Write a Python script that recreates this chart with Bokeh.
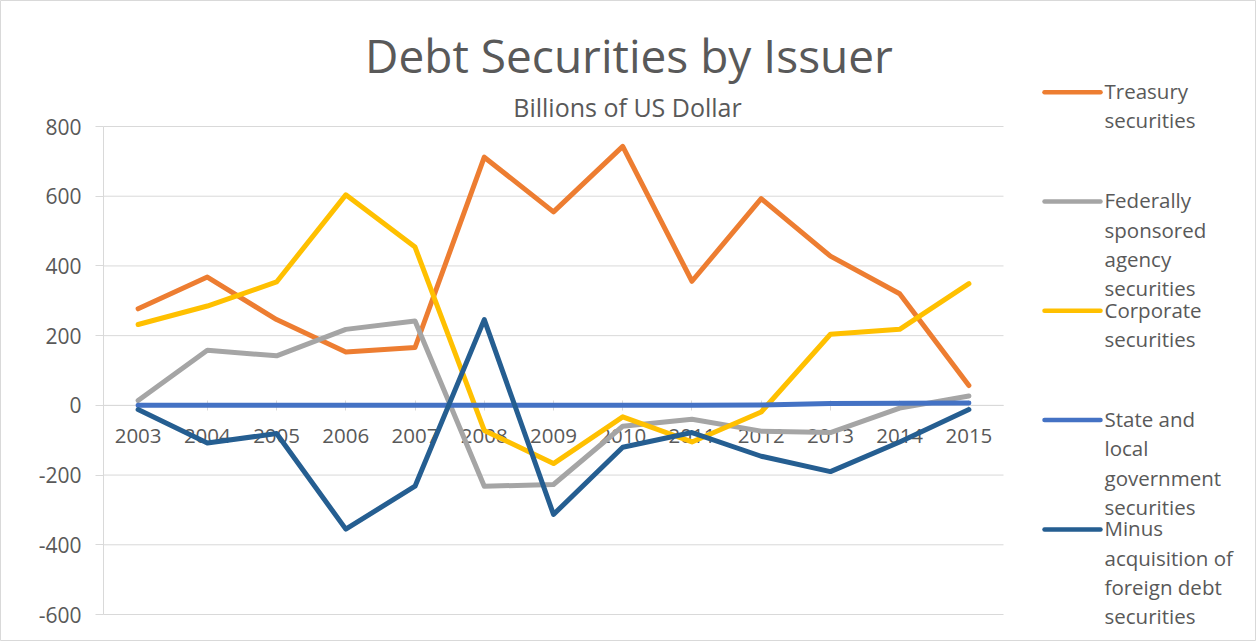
from bokeh.plotting import figure
from bokeh.models import Range1d, FixedTicker, Label
from bokeh.embed import file_html
from bokeh.resources import INLINE

# ---------------- data ----------------
years = [2003, 2004, 2005, 2006, 2007, 2008, 2009,
         2010, 2011, 2012, 2013, 2014, 2015]
treasury = [277, 368, 246, 153, 166, 712, 555, 743, 356, 593, 428, 320, 57]
federal = [14, 158, 142, 218, 242, -232, -227, -60, -40, -74, -78, -8, 27]
corporate = [232, 285, 354, 604, 454, -72, -167, -33, -105, -19, 204, 218, 349]
state_local = [0, 0, 0, 0, 0, 0, 0, 0, 0, 1, 5, 6, 7]
minus_foreign = [-12, -108, -81, -355, -232, 246, -313, -120, -78, -146, -190, -105, -12]

series_names = ["Treasury\nsecurities",
                "Federally\nsponsored\nagency\nsecurities",
                "Corporate\nsecurities",
                "State and\nlocal\ngovernment\nsecurities",
                "Minus\nacquisition of\nforeign debt\nsecurities"]
series_values = [treasury, federal, corporate, state_local, minus_foreign]
colors = ["#ED7D31", "#A5A5A5", "#FFC000", "#4472C4", "#255E91"]
y_ticks = [-600, -400, -200, 0, 200, 400, 600, 800]
title_text = "Debt Securities by Issuer"
subtitle_text = "Billions of US Dollar"

# ---------------- layout (pixel geometry of the Excel chart) ----------------
W, H = 1256, 641
FL, FR, FT, FB = 103, 1003, 126, 614          # plot-area box in pixels
X_LO, X_HI = years[0] - 0.5, years[-1] + 0.5  # category slots
Y_LO, Y_HI = y_ticks[0], y_ticks[-1]
PXX = (FR - FL) / (X_HI - X_LO)
PXY = (FB - FT) / (Y_HI - Y_LO)


def xd(px):
    return X_LO + (px - FL) / PXX


def yd(py):
    return Y_HI - (py - FT) / PXY


FONT = "Open Sans"
TXT = "#595959"
GRID = "#d9d9d9"

p = figure(width=W, height=H,
           x_range=Range1d(xd(0), xd(W)),
           y_range=Range1d(yd(H), yd(0)),
           output_backend="svg", toolbar_location=None,
           min_border=0, min_border_left=0, min_border_right=0,
           min_border_top=0, min_border_bottom=0)
p.title.visible = False
p.outline_line_color = GRID
p.outline_line_width = 1
p.background_fill_color = "white"
p.border_fill_color = "white"
p.xgrid.visible = False
p.ygrid.visible = False

# horizontal gridlines over the plot area only
p.segment(x0=[X_LO] * len(y_ticks), x1=[X_HI] * len(y_ticks),
          y0=y_ticks, y1=y_ticks, line_color=GRID, line_width=1, level="underlay")

# x axis drawn at zero (Excel style)
xa = p.xaxis[0]
xa.fixed_location = 0
xa.bounds = (X_LO, X_HI)
xa.ticker = FixedTicker(ticks=years)
xa.minor_tick_line_color = None
xa.level = "underlay"
xa.axis_line_color = GRID
xa.axis_line_width = 1
xa.major_tick_line_color = GRID
xa.major_tick_in = 5
xa.major_tick_out = 5
xa.major_label_standoff = 19
xa.major_label_text_font = FONT
xa.major_label_text_font_size = "20.5px"
xa.major_label_text_color = TXT

# y axis at the left edge of the plot area
ya = p.yaxis[0]
ya.fixed_location = X_LO
ya.bounds = (Y_LO, Y_HI)
ya.ticker = FixedTicker(ticks=y_ticks)
ya.major_label_overrides = {t: str(t) for t in y_ticks}
ya.axis_line_color = GRID
ya.major_tick_line_color = GRID
ya.major_tick_in = 0
ya.major_tick_out = 8
ya.minor_tick_line_color = None
ya.major_label_standoff = 14
ya.major_label_text_font = FONT
ya.major_label_text_font_size = "21px"
ya.major_label_text_color = TXT

# series
for vals, c in zip(series_values, colors):
    p.line(years, vals, line_width=5, line_color=c,
           line_join="round", line_cap="round")

# titles (centred on the whole chart)
p.add_layout(Label(x=xd(628.5), y=yd(54.6), text=title_text,
                   text_align="center", text_baseline="alphabetic",
                   text_font=FONT, text_font_size="46px", text_color=TXT))
p.add_layout(Label(x=xd(627), y=yd(106.3), text=subtitle_text,
                   text_align="center", text_baseline="alphabetic",
                   text_font=FONT, text_font_size="25px", text_color=TXT))

# legend (Excel style: fixed slot height, wrapped labels)
for i, (name, c) in enumerate(zip(series_names, colors)):
    y0 = 91.7 + 109.3 * i
    p.segment(x0=[xd(1044)], x1=[xd(1100)], y0=[yd(y0)], y1=[yd(y0)],
              line_color=c, line_width=4.5, line_cap="round")
    for j, part in enumerate(name.split("\n")):
        p.add_layout(Label(x=xd(1104), y=yd(y0 - 1.3 + 29.4 * j), text=part,
                           text_align="left", text_baseline="middle",
                           text_font=FONT, text_font_size="20.5px", text_color=TXT))

open("out.html", "w").write(file_html(p, INLINE))
